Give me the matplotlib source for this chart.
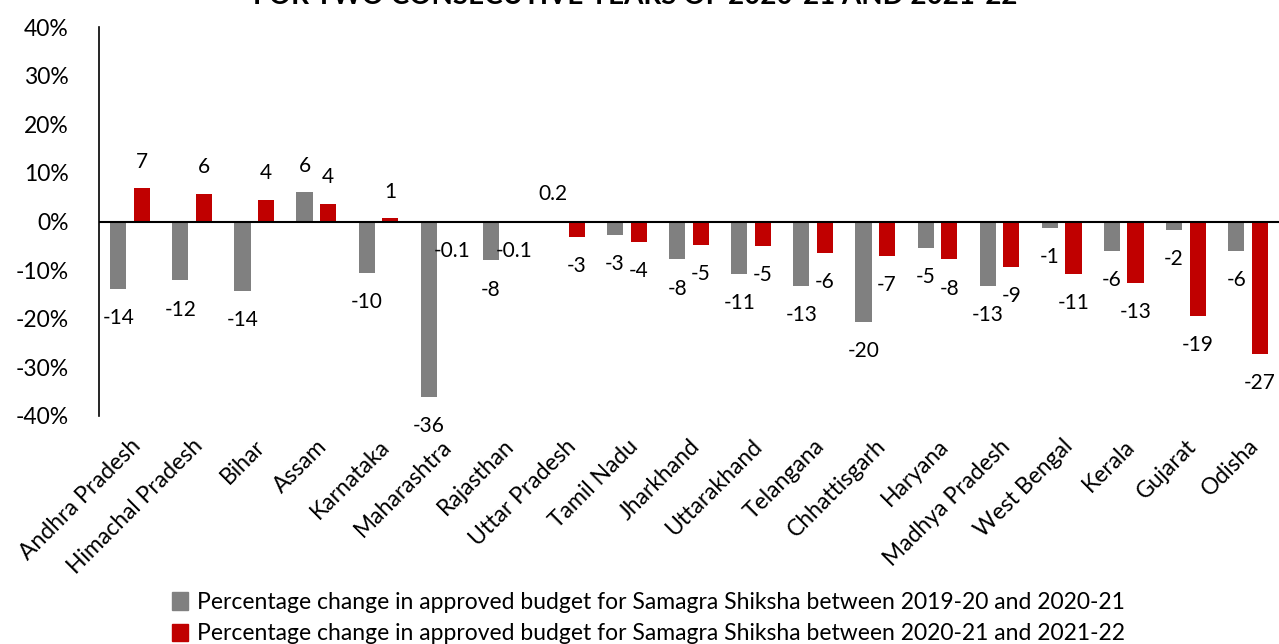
"""
Percentage change in approved Samagra Shiksha budget, by state
"""
import matplotlib
matplotlib.use('Agg')
import matplotlib.pyplot as plt
import numpy as np
from matplotlib.patches import Patch

states = ['Andhra Pradesh', 'Himachal Pradesh', 'Bihar', 'Assam', 'Karnataka',
          'Maharashtra', 'Rajasthan', 'Uttar Pradesh', 'Tamil Nadu', 'Jharkhand',
          'Uttarakhand', 'Telangana', 'Chhattisgarh', 'Haryana', 'Madhya Pradesh',
          'West Bengal', 'Kerala', 'Gujarat', 'Odisha']

# bar heights
change_2019_21 = [-13.9, -12.1, -14.2, 6.0, -10.5, -36.0, -8.0, 0.2, -2.8, -7.8,
                  -10.7, -13.3, -20.6, -5.5, -13.3, -1.4, -6.0, -1.8, -6.0]
change_2020_22 = [6.8, 5.7, 4.5, 3.7, 0.7, -0.1, -0.1, -3.1, -4.2, -4.8,
                  -5.0, -6.4, -7.0, -7.8, -9.4, -10.7, -12.7, -19.5, -27.3]

# printed data labels
labels_2019_21 = ['-14', '-12', '-14', '6', '-10', '-36', '-8', '0.2', '-3', '-8',
                  '-11', '-13', '-20', '-5', '-13', '-1', '-6', '-2', '-6']
labels_2020_22 = ['7', '6', '4', '4', '1', '-0.1', '-0.1', '-3', '-4', '-5',
                  '-5', '-6', '-7', '-8', '-9', '-11', '-13', '-19', '-27']

legend_labels = [
    'Percentage change in approved budget for Samagra Shiksha between 2019-20 and 2020-21',
    'Percentage change in approved budget for Samagra Shiksha between 2020-21 and 2021-22',
]

GRAY = '#808080'
RED = '#C00000'

plt.rcParams['font.family'] = ['Lato', 'DejaVu Sans']

fig = plt.figure(figsize=(12.79, 6.44), dpi=100)
ax = fig.add_axes([99 / 1279, (644 - 416) / 644, 1 - 99 / 1279, (416 - 27) / 644])

x = np.arange(len(states))
w = 0.26
off = 0.19
bars1 = ax.bar(x - off, change_2019_21, w, color=GRAY)
bars2 = ax.bar(x + off, change_2020_22, w, color=RED)

for bars, labels in [(bars1, labels_2019_21), (bars2, labels_2020_22)]:
    for b, lab in zip(bars, labels):
        h = b.get_height()
        dy = 19 if h > 0 else -21
        ax.annotate(lab, (b.get_x() + b.get_width() / 2, h),
                    xytext=(0, dy), textcoords='offset points',
                    ha='center', va='center', fontsize=15)

ax.set_xlim(-0.5, len(states) - 0.5)
ax.set_ylim(-40, 40)
ax.set_yticks(np.arange(-40, 41, 10))
ax.set_yticklabels([f'{v}%' for v in range(-40, 41, 10)], fontsize=16.5)
ax.axhline(0, color='black', lw=1.5)

ax.set_xticks(x)
ax.set_xticklabels(states, rotation=45, ha='right', rotation_mode='anchor', fontsize=16.5)
ax.tick_params(axis='x', length=0, pad=14)
ax.tick_params(axis='y', length=0, pad=22)

for s in ['top', 'right', 'bottom']:
    ax.spines[s].set_visible(False)
ax.spines['left'].set_linewidth(1.2)

# title is cut off at the top of the reference image
fig.text(0.497, 1 - 4 / 644, 'FOR TWO CONSECUTIVE YEARS OF 2020-21 AND 2021-22',
         ha='center', va='baseline', fontsize=20, fontweight='bold')

handles = [Patch(color=GRAY), Patch(color=RED)]
fig.legend(handles, legend_labels, loc='upper left',
           bbox_to_anchor=(163 / 1279, (644 - 583) / 644), frameon=False,
           fontsize=16.5, handlelength=0.7, handleheight=0.8, handletextpad=0.4,
           labelspacing=0.45, borderaxespad=0)

plt.savefig('out.png', dpi=100)
